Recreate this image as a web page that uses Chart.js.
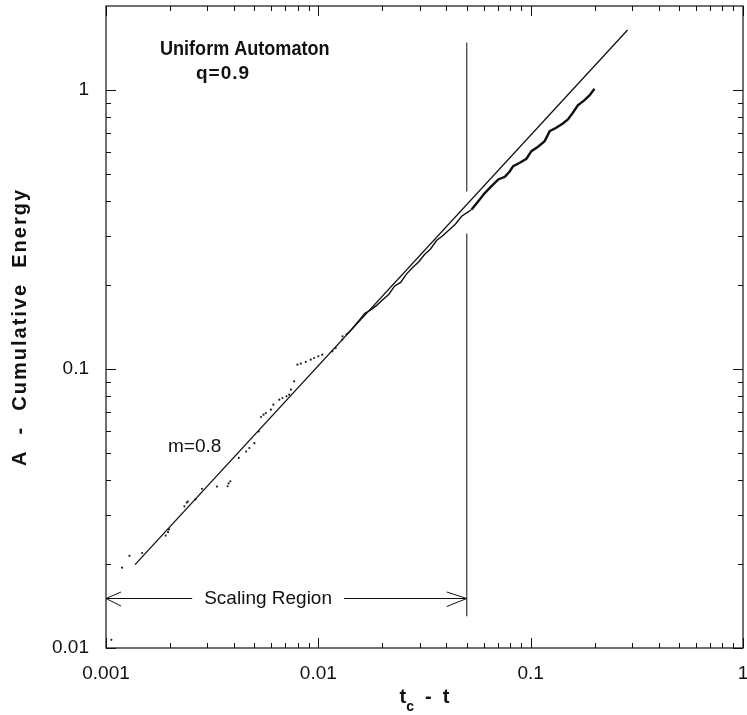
<!DOCTYPE html>
<html lang="en">
<head>
    <meta charset="UTF-8">
    <title>Uniform Automaton q=0.9</title>
    <script src="https://cdn.jsdelivr.net/npm/chart.js"></script>
    <style>
        body { margin: 0; background: #fff; }
        #chart { display: block; }
    </style>
</head>
<body>
    <canvas id="chart" width="747" height="715"></canvas>

    <script>
        // axis ticks
        const xTicks = [0.001, 0.01, 0.1, 1];
        const xTickLabels = ['0.001', '0.01', '0.1', '1'];
        const yTicks = [0.01, 0.1, 1];
        const yTickLabels = ['0.01', '0.1', '1'];

        // early, scattered events (t_c - t, A)
        const sparseT = [0.00106, 0.00119, 0.00129, 0.00148, 0.00191, 0.00196, 0.00198, 0.00234, 0.00240, 0.00243,
                         0.00264, 0.00283, 0.00333, 0.00374, 0.00378, 0.00385, 0.00422, 0.00457, 0.00473, 0.00500,
                         0.00524, 0.00537, 0.00552, 0.00566, 0.00598, 0.00614, 0.00655, 0.00678, 0.00708, 0.00729,
                         0.00743, 0.00769, 0.00797, 0.00827, 0.00873, 0.00921, 0.00955, 0.01000, 0.01044, 0.01164,
                         0.01207, 0.01296, 0.01300];
        const sparseA = [0.0107, 0.0194, 0.0214, 0.0219, 0.0253, 0.0260, 0.0266, 0.0322, 0.0332, 0.0335,
                         0.0341, 0.0372, 0.0379, 0.0380, 0.0389, 0.0396, 0.0480, 0.0506, 0.0521, 0.0542,
                         0.0597, 0.0673, 0.0686, 0.0695, 0.0715, 0.0745, 0.0776, 0.0787, 0.0798, 0.0809,
                         0.0843, 0.0903, 0.1036, 0.1045, 0.1060, 0.1080, 0.1095, 0.1110, 0.1125, 0.1157,
                         0.1189, 0.1274, 0.1309];

        // dense part of the record near failure
        const traceT = [0.01344, 0.01393, 0.01552, 0.01656, 0.01767, 0.01884, 0.02010, 0.02145, 0.02289, 0.02441,
                        0.02605, 0.02780, 0.02965, 0.03164, 0.03376, 0.03602, 0.03842, 0.04100, 0.04407, 0.04732,
                        0.04995, 0.05272, 0.05666, 0.06093, 0.06542, 0.07035, 0.07559, 0.07980, 0.08271, 0.08889,
                        0.09546, 0.1008, 0.1083, 0.1164, 0.1229, 0.1319, 0.1418, 0.1497, 0.1580, 0.1668,
                        0.1793, 0.1892, 0.1998];
        const traceA = [0.1328, 0.1351, 0.1489, 0.1583, 0.1630, 0.1691, 0.1770, 0.1850, 0.1985, 0.2043,
                        0.2193, 0.2312, 0.2418, 0.2573, 0.2692, 0.2888, 0.2998, 0.3134, 0.3294, 0.3528,
                        0.3629, 0.3730, 0.3995, 0.4281, 0.4521, 0.4777, 0.4885, 0.5117, 0.5333, 0.5484,
                        0.5669, 0.6036, 0.6260, 0.6556, 0.7120, 0.7322, 0.7588, 0.7842, 0.8291, 0.8805,
                        0.9201, 0.9563, 1.011];

        // power-law fit, m=0.8
        const fitT = [0.00137, 0.286];
        const fitA = [0.0199, 1.64];
        const slopeLabel = 'm=0.8';

        // end of the scaling region
        const cutT = 0.05;
        const cutA = [1.48, 0.433, null, 0.306, 0.013];
        const arrowT = [0.001, 0.05];
        const arrowA = 0.0151;
        const arrowLabelT = 0.0058;

        const pts = (xs, ys) => xs.map((v, i) => ({ x: v, y: ys[i] }));

        const FONT = "'Liberation Sans', Arial, Helvetica, sans-serif";
        Chart.defaults.font.family = FONT;
        Chart.defaults.color = '#111';

        // frame, inward ticks on all four sides, and the text annotations
        const overlay = {
            id: 'overlay',
            afterDraw(chart) {
                const { ctx, chartArea: a, scales: { x, y } } = chart;
                ctx.save();
                ctx.strokeStyle = '#111';
                ctx.lineWidth = 1.2;
                ctx.strokeRect(a.left, a.top, a.right - a.left, a.bottom - a.top);

                ctx.lineWidth = 1;
                for (let d = 0.001; d < 1.5; d *= 10) {
                    for (let k = 1; k <= 9; k++) {
                        const v = d * k;
                        if (v > 1.0001) break;
                        const px = Math.round(x.getPixelForValue(v)) + 0.5;
                        const len = k === 1 ? 10 : 5;
                        ctx.beginPath();
                        ctx.moveTo(px, a.bottom); ctx.lineTo(px, a.bottom - len);
                        ctx.moveTo(px, a.top); ctx.lineTo(px, a.top + len);
                        ctx.stroke();
                    }
                }
                for (let d = 0.01; d < 1.5; d *= 10) {
                    for (let k = 1; k <= 9; k++) {
                        const v = d * k;
                        if (v > 1.99) break;
                        const py = Math.round(y.getPixelForValue(v)) + 0.5;
                        const len = k === 1 ? 10 : 5;
                        ctx.beginPath();
                        ctx.moveTo(a.left, py); ctx.lineTo(a.left + len, py);
                        ctx.moveTo(a.right, py); ctx.lineTo(a.right - len, py);
                        ctx.stroke();
                    }
                }

                // scaling region arrow
                const ya = Math.round(y.getPixelForValue(arrowA)) + 0.5;
                const x0 = x.getPixelForValue(arrowT[0]);
                const x1 = x.getPixelForValue(arrowT[1]);
                const xm = x.getPixelForValue(arrowLabelT);
                ctx.font = '19px ' + FONT;
                ctx.fillStyle = '#111';
                ctx.textAlign = 'center';
                ctx.textBaseline = 'middle';
                const label = 'Scaling Region';
                const w = ctx.measureText(label).width;
                ctx.fillText(label, xm, ya);
                ctx.beginPath();
                ctx.moveTo(x0, ya); ctx.lineTo(xm - w / 2 - 12, ya);
                ctx.moveTo(xm + w / 2 + 12, ya); ctx.lineTo(x1, ya);
                ctx.moveTo(x0 + 15, ya - 6.5); ctx.lineTo(x0, ya); ctx.lineTo(x0 + 15, ya + 7.5);
                ctx.moveTo(x1 - 20, ya - 6.5); ctx.lineTo(x1, ya); ctx.lineTo(x1 - 20, ya + 8);
                ctx.stroke();

                // y axis title, spaced out a little
                ctx.save();
                ctx.translate(20, (a.top + a.bottom) / 2);
                ctx.rotate(-Math.PI / 2);
                ctx.font = 'bold 20px ' + FONT;
                ctx.letterSpacing = '2px';
                ctx.fillText('A  -  Cumulative  Energy', 0, 0);
                ctx.restore();

                // title, tall and slightly narrow
                ctx.textAlign = 'left';
                ctx.textBaseline = 'alphabetic';
                ctx.save();
                ctx.translate(160, 55);
                ctx.scale(0.86, 1);
                ctx.font = 'bold 21px ' + FONT;
                ctx.fillText('Uniform Automaton', 0, 0);
                ctx.restore();
                ctx.font = 'bold 19px ' + FONT;
                ctx.letterSpacing = '1px';
                ctx.fillText('q=0.9', 196, 79);
                ctx.letterSpacing = '0px';

                // slope label
                ctx.font = '19px ' + FONT;
                ctx.fillText(slopeLabel, 168, 452);

                // x axis title with subscript
                ctx.font = 'bold 20px ' + FONT;
                const wt = ctx.measureText('t').width;
                ctx.font = 'bold 14px ' + FONT;
                const wc = ctx.measureText('c').width;
                ctx.font = 'bold 20px ' + FONT;
                const wr = ctx.measureText('  -  t').width;
                let tx = (a.left + a.right) / 2 - (wt + wc + wr) / 2;
                ctx.fillText('t', tx, 703);
                ctx.font = 'bold 14px ' + FONT;
                ctx.fillText('c', tx + wt, 711);
                ctx.font = 'bold 20px ' + FONT;
                ctx.fillText('  -  t', tx + wt + wc, 703);
                ctx.restore();
            }
        };

        new Chart(document.getElementById('chart'), {
            type: 'scatter',
            data: {
                datasets: [
                    {
                        data: pts(fitT, fitA),
                        showLine: true,
                        borderColor: '#111',
                        borderWidth: 1.3,
                        pointRadius: 0
                    },
                    {
                        data: cutA.map(v => ({ x: cutT, y: v })),
                        showLine: true,
                        spanGaps: false,
                        borderColor: '#444',
                        borderWidth: 1.3,
                        pointRadius: 0
                    },
                    {
                        data: pts(traceT, traceA),
                        showLine: true,
                        borderColor: '#111',
                        borderWidth: 1.4,
                        segment: {
                            borderWidth: c => c.p0.parsed.x >= 0.05 ? 2.4 : 1.4
                        },
                        pointRadius: 0
                    },
                    {
                        data: pts(sparseT, sparseA),
                        backgroundColor: '#222',
                        borderWidth: 0,
                        pointRadius: 1.1
                    }
                ]
            },
            options: {
                responsive: false,
                animation: false,
                layout: { padding: { top: 6, right: 1, left: 0, bottom: 0 } },
                plugins: {
                    legend: { display: false },
                    tooltip: { enabled: false }
                },
                scales: {
                    x: {
                        type: 'logarithmic',
                        min: 0.001,
                        max: 1,
                        grid: { display: false, drawTicks: false },
                        border: { display: false },
                        afterBuildTicks: s => { s.ticks = xTicks.map(v => ({ value: v })); },
                        afterFit: s => { s.height = 67; s.paddingLeft = 0; s.paddingRight = 0; },
                        ticks: {
                            autoSkip: false,
                            maxRotation: 0,
                            padding: 14,
                            font: { size: 19 },
                            callback: (v, i) => xTickLabels[i]
                        }
                    },
                    y: {
                        type: 'logarithmic',
                        min: 0.01,
                        max: 2,
                        grid: { display: false, drawTicks: false },
                        border: { display: false },
                        afterBuildTicks: s => { s.ticks = yTicks.map(v => ({ value: v })); },
                        afterFit: s => { s.width = 106; s.paddingTop = 0; s.paddingBottom = 0; },
                        ticks: {
                            autoSkip: false,
                            padding: 17,
                            font: { size: 19 },
                            callback: (v, i) => yTickLabels[i]
                        }
                    }
                }
            },
            plugins: [overlay]
        });
    </script>
</body>
</html>
